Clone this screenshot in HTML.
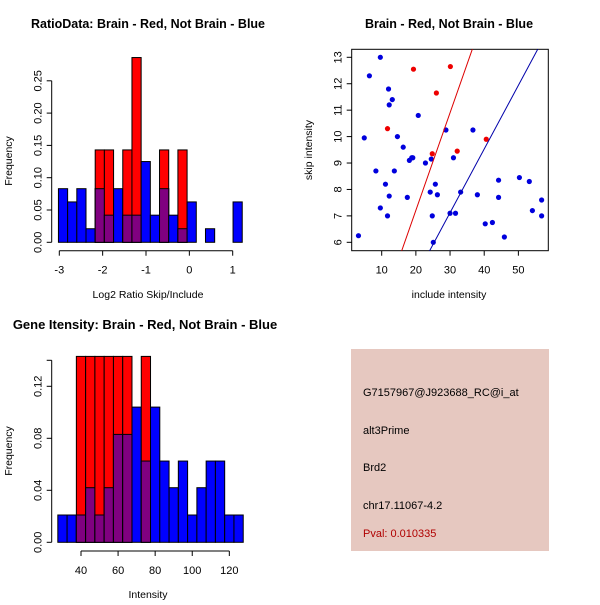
<!DOCTYPE html>
<html><head><meta charset="utf-8"><style>
html,body{margin:0;padding:0;background:#fff;}
svg text{font-family:"Liberation Sans",sans-serif;}
</style></head><body>
<svg id="c" width="600" height="600" xmlns="http://www.w3.org/2000/svg">
<rect x="0" y="0" width="600" height="600" fill="#fff"/>
<text x="148" y="28" font-size="12.5" font-weight="bold" text-anchor="middle">RatioData: Brain - Red, Not Brain - Blue</text>
<text x="449" y="28" font-size="12.5" font-weight="bold" text-anchor="middle">Brain - Red, Not Brain - Blue</text>
<text x="145" y="329" font-size="13" font-weight="bold" text-anchor="middle">Gene Itensity: Brain - Red, Not Brain - Blue</text>
<text x="148" y="298" font-size="10.5" text-anchor="middle">Log2 Ratio Skip/Include</text>
<text x="12" y="161" font-size="10.5" text-anchor="middle" transform="rotate(-90 12 161)">Frequency</text>
<text x="449" y="298" font-size="10.5" text-anchor="middle">include intensity</text>
<text x="312" y="150" font-size="10.5" text-anchor="middle" transform="rotate(-90 312 150)">skip intensity</text>
<text x="148" y="598" font-size="10.5" text-anchor="middle">Intensity</text>
<text x="12" y="451" font-size="10.5" text-anchor="middle" transform="rotate(-90 12 451)">Frequency</text>
<g>
<rect x="351" y="349" width="198" height="202" fill="#e6c8c0"/>
<text x="363" y="396" font-size="11">G7157967@J923688_RC@i_at</text>
<text x="363" y="434" font-size="11">alt3Prime</text>
<text x="363" y="471" font-size="11">Brd2</text>
<text x="363" y="509" font-size="11">chr17.11067-4.2</text>
<text x="363" y="537" font-size="11" fill="#b00000">Pval: 0.010335</text>
</g>
</svg>
<script>
// Ratio histogram data
const ratioBinStart = -3.02;
const ratioBinWidth = 0.212;
const ratioBlue = [0.083,0.0625,0.083,0.021,0.083,0.042,0.083,0.042,0.042,0.125,0.042,0.083,0.042,0.021,0.0625,0,0.021,0,0,0.0625];
const ratioRed = [0,0,0,0,0.143,0.143,0,0.143,0.286,0,0,0.143,0,0.143,0,0,0,0,0,0];
const ratioXTicks = [-3,-2,-1,0,1];
const ratioYTicks = [0,0.05,0.10,0.15,0.20,0.25];
const ratioYLabels = ["0.00","0.05","0.10","0.15","0.20","0.25"];
// Intensity histogram data
const intBinStart = 27.5;
const intBinWidth = 5;
const intBlue = [0.021,0.021,0.021,0.042,0.021,0.042,0.083,0.083,0.104,0.0625,0.104,0.0625,0.042,0.0625,0.021,0.042,0.0625,0.0625,0.021,0.021];
const intRed = [0,0,0.143,0.143,0.143,0.143,0.143,0.143,0,0.143,0,0,0,0,0,0,0,0,0,0];
const intXTicks = [40,60,80,100,120];
const intYTicks = [0,0.04,0.08,0.12];
const intYLabels = ["0.00","0.04","0.08","0.12"];
// Scatter data
const blueX = [9.6,6.4,12.0,12.2,13.1,20.7,4.9,14.6,16.3,28.8,36.7,18.1,18.8,19.1,22.8,24.5,31.0,8.3,13.7,11.1,12.2,17.5,24.2,25.7,26.3,33.1,38.0,44.2,44.2,50.3,53.2,56.8,54.1,56.8,9.6,11.7,24.8,30.0,31.6,40.3,42.4,45.9,3.2,25.1];
const blueY = [13.0,12.3,11.8,11.2,11.4,10.8,9.95,10.0,9.6,10.25,10.25,9.1,9.2,9.2,9.0,9.15,9.2,8.7,8.7,8.2,7.75,7.7,7.9,8.2,7.8,7.9,7.8,8.35,7.7,8.45,8.3,7.6,7.2,7.0,7.3,7.0,7.0,7.1,7.1,6.7,6.75,6.2,6.25,6.0];
const redX = [19.3,30.1,26.0,11.7,24.8,32.1,40.6];
const redY = [12.55,12.65,11.65,10.3,9.35,9.45,9.9];
const lineIntercepts = [-0.17,-0.11];
const lineSlopes = [0.369,0.241];
const lineColors = ["#dd0000","#0000aa"];
const scatXTicks = [10,20,30,40,50];
const scatYTicks = [6,7,8,9,10,11,12,13];

const svg = document.getElementById('c');
const NS = 'http://www.w3.org/2000/svg';
function mk(tag, attrs){const e=document.createElementNS(NS,tag);for(const k in attrs)e.setAttribute(k,attrs[k]);svg.appendChild(e);return e;}
function txt(x,y,s,size,anchor,rot){const e=mk('text',{x:x,y:y,'font-size':size,'text-anchor':anchor});if(rot)e.setAttribute('transform','rotate(-90 '+x+' '+y+')');e.textContent=s;return e;}

function hist(name, binStart, binW, blue, red, xScale, yScale, xTicks, yTicks, yLabels, xAxisY, yAxisX){
  const y0 = yScale(0);
  for(let i=0;i<blue.length;i++){
    const a = xScale(binStart+i*binW), b = xScale(binStart+(i+1)*binW);
    const bv = blue[i], rv = red[i], mn = Math.min(bv,rv);
    if(bv>0){
      const r = mk('rect',{x:a,y:yScale(bv),width:b-a,height:y0-yScale(bv),fill:'#0000ff',stroke:'#000','stroke-width':1});
      
      
    }
    if(rv>0){
      const r = mk('rect',{x:a,y:yScale(rv),width:b-a,height:y0-yScale(rv),fill:'#ff0000',stroke:'#000','stroke-width':1});
      
      
    }
    if(mn>0){
      const r = mk('rect',{x:a,y:yScale(mn),width:b-a,height:y0-yScale(mn),fill:'#800080',stroke:'#000','stroke-width':1});
      
      
    }
  }
  const xa = mk('line',{x1:xScale(xTicks[0]),x2:xScale(xTicks[xTicks.length-1]),y1:xAxisY,y2:xAxisY,stroke:'#000'});
  
  
  xTicks.forEach(t=>{
    mk('line',{x1:xScale(t),x2:xScale(t),y1:xAxisY,y2:xAxisY+5,stroke:'#000'});
    const l = txt(xScale(t),xAxisY+23,String(t),11,'middle');
    
    
  });
  const ya = mk('line',{x1:yAxisX,x2:yAxisX,y1:yScale(yTicks[0]),y2:yScale(yTicks[yTicks.length-1]),stroke:'#000'});
  
  
  yTicks.forEach((t,i)=>{
    mk('line',{x1:yAxisX-5,x2:yAxisX,y1:yScale(t),y2:yScale(t),stroke:'#000'});
    const l = txt(yAxisX-10,yScale(t),yLabels[i],11,'middle',true);
    
    
  });
}

const rx = v => 59.3 + (v+3)*43.35;
const ry = v => 242.3 - v*646;
hist('ratio', ratioBinStart, ratioBinWidth, ratioBlue, ratioRed, rx, ry, ratioXTicks, ratioYTicks, ratioYLabels, 250.7, 51.7);

const ix = v => 81 + (v-40)*1.854;
const iy = v => 542.3 - v*1300;
hist('intensity', intBinStart, intBinWidth, intBlue, intRed, ix, iy, intXTicks, intYTicks, intYLabels, 551, 51.7);
mk('line',{x1:51.7,x2:51.7,y1:iy(0.12),y2:iy(0.14),stroke:'#000'});
mk('line',{x1:46.7,x2:51.7,y1:iy(0.14),y2:iy(0.14),stroke:'#000'});

const L=351.7,R=548.3,T=49.3,B=250.7;
const sx = v => 381.7 + (v-10)*3.417;
const sy = v => 57.3 - (v-13)*26.43;
const clip = mk('clipPath',{id:'sc'});
const cr = document.createElementNS(NS,'rect');
cr.setAttribute('x',L);cr.setAttribute('y',T);cr.setAttribute('width',R-L);cr.setAttribute('height',B-T);
clip.appendChild(cr);
const box = mk('rect',{x:L,y:T,width:R-L,height:B-T,fill:'none',stroke:'#000'});


blueX.forEach((x,i)=>{
  const c = mk('circle',{cx:sx(x),cy:sy(blueY[i]),r:2.6,fill:'#0000dd'});
  
  
});
redX.forEach((x,i)=>{
  const c = mk('circle',{cx:sx(x),cy:sy(redY[i]),r:2.6,fill:'#ee0000'});
  
  
});
lineSlopes.forEach((b,i)=>{
  const a = lineIntercepts[i];
  const l = mk('line',{x1:sx(0),y1:sy(a),x2:sx(70),y2:sy(a+b*70),stroke:lineColors[i],'stroke-width':1,'clip-path':'url(#sc)'});
  
  
});
scatXTicks.forEach(t=>{
  mk('line',{x1:sx(t),x2:sx(t),y1:B,y2:B+5,stroke:'#000'});
  const l = txt(sx(t),B+23,String(t),11,'middle');
  
  
});
scatYTicks.forEach(t=>{
  mk('line',{x1:L-5,x2:L,y1:sy(t),y2:sy(t),stroke:'#000'});
  const l = txt(L-10,sy(t),String(t),11,'middle',true);
  
  
});
</script>
</body></html>
